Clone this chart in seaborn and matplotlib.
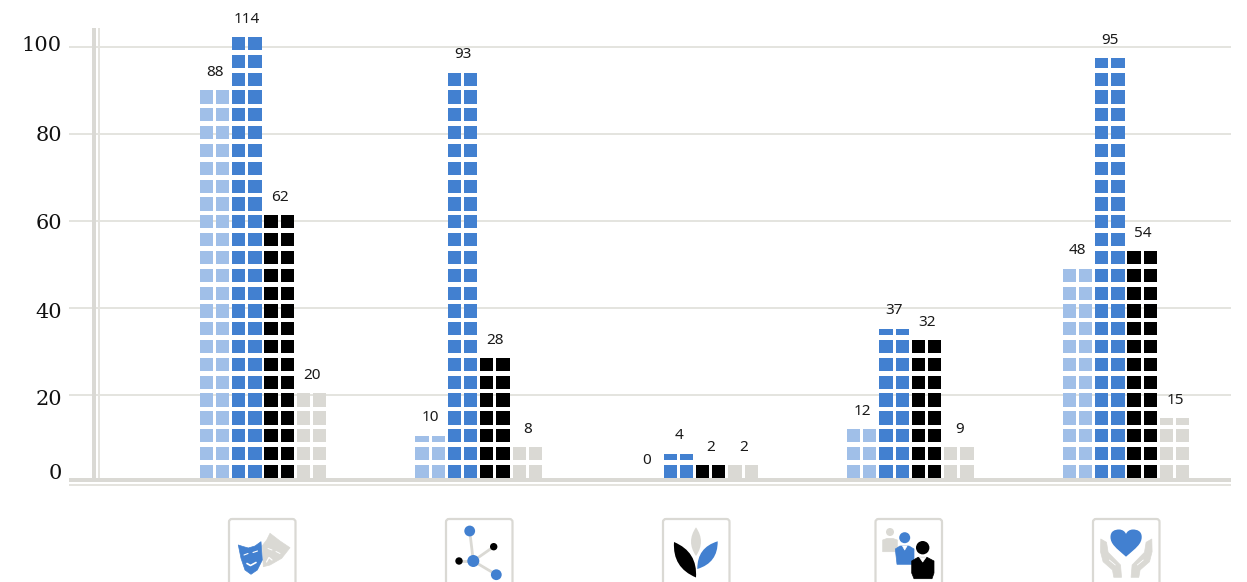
import matplotlib
matplotlib.use('Agg')
import matplotlib.pyplot as plt
from matplotlib.patches import Circle, FancyBboxPatch, PathPatch, Polygon
from matplotlib.path import Path
from matplotlib.transforms import ScaledTranslation
import numpy as np
import pandas as pd
import seaborn as sns

categories = ['Arts', 'Science', 'Environment', 'Community', 'Health']
series = ['Series A', 'Series B', 'Series C', 'Series D']

# numbers printed above the columns
labels_a = [88, 10, 0, 12, 48]
labels_b = [114, 93, 4, 37, 95]
labels_c = [62, 28, 2, 32, 54]
labels_d = [20, 8, 2, 9, 15]

# what the tiles actually show (one full tile = 4)
tiles_a = [88, 10, 0, 12, 48]
tiles_b = [100, 92, 6, 34, 95]
tiles_c = [60, 28, 4, 32, 52]
tiles_d = [20, 8, 4, 8, 14]

y_ticks = [0, 20, 40, 60, 80, 100]
colors = ['#A0BFE8', '#4280D0', '#000000', '#DAD9D4']

GREY = '#DAD9D4'
BLUE = '#4280D0'
PX_PER_UNIT = 4.346
TILE_VALUE = 4
TILE_H = 13.2 / PX_PER_UNIT
TILE_PITCH = 17.83 / PX_PER_UNIT
TILE_BASE = 3.9 / PX_PER_UNIT
GROUP_WIDTH = 0.6

sns.set_theme(style='white')
plt.rcParams['font.family'] = ['Noto Sans', 'DejaVu Sans']

fig = plt.figure(figsize=(12.47, 5.82), dpi=100)
ax = fig.add_axes([69 / 1247, 1 - 481.9 / 582, (1231 - 69) / 1247, (481.9 - 28) / 582])

all_tiles = [tiles_a, tiles_b, tiles_c, tiles_d]
all_labels = [labels_a, labels_b, labels_c, labels_d]

# every series is two tile columns wide, so dodge over eight hue levels
columns = [f'{s} {side}' for s in series for side in ('left', 'right')]
palette = {f'{s} {side}': c for s, c in zip(series, colors) for side in ('left', 'right')}

n_rows = int(np.ceil(max(max(t) for t in all_tiles) / TILE_VALUE))
for row in range(n_rows):
    records = []
    for s, tiles in zip(series, all_tiles):
        for cat, value in zip(categories, tiles):
            fill = np.clip(value / TILE_VALUE - row, 0, 1)
            for side in ('left', 'right'):
                records.append({'category': cat, 'column': f'{s} {side}', 'height': fill * TILE_H})
    sns.barplot(data=pd.DataFrame(records), x='category', y='height', hue='column',
                order=categories, hue_order=columns, palette=palette, saturation=1,
                width=GROUP_WIDTH, gap=0.18, errorbar=None, legend=False,
                bottom=TILE_BASE + row * TILE_PITCH, linewidth=0, zorder=3, ax=ax)

# value labels sit a fixed distance above the top tile
for i, (tiles, labels) in enumerate(zip(all_tiles, all_labels)):
    for g, (value, label) in enumerate(zip(tiles, labels)):
        rows = value / TILE_VALUE
        whole = int(np.floor(rows))
        if rows == whole:
            top = TILE_BASE + max(whole - 1, 0) * TILE_PITCH + (TILE_H if whole else 0)
        else:
            top = TILE_BASE + whole * TILE_PITCH + (rows - whole) * TILE_H
        x = g + (i - 1.5) * GROUP_WIDTH / 4
        ax.annotate(str(label), (x, top), xytext=(0.3, 12.8), textcoords='offset points',
                    ha='center', va='center', fontsize=11, color='#1a1a1a', zorder=5)

ax.set_xlim((69 - 263) / 215.75, (1231 - 263) / 215.75)
ax.set_ylim(0, (481.9 - 28) / PX_PER_UNIT)
ax.set_xlabel('')
ax.set_ylabel('')
ax.set_xticks([])
ax.set_yticks(y_ticks)
ax.set_axisbelow(True)
ax.yaxis.grid(True, color='#DDDCD6', linewidth=1.1)
ax.xaxis.grid(False)
sns.despine(ax=ax, left=True, bottom=True)
ax.tick_params(axis='y', length=0, pad=5)

# old-style numerals in the original do not centre on the gridlines
label_shift = [10, -3, -2, 0, 1, 4]
for tick, dy in zip(ax.get_yticklabels(), label_shift):
    tick.set_fontfamily('DejaVu Serif')
    tick.set_fontsize(15)
    tick.set_color('#111111')
    tick.set_transform(tick.get_transform() + ScaledTranslation(0, dy / 100, fig.dpi_scale_trans))

# overlay in pixel coordinates for the axis rules and the icons
px = fig.add_axes([0, 0, 1, 1], facecolor='none')
px.set_xlim(0, 1247)
px.set_ylim(582, 0)
px.axis('off')
px.fill_between([92.3, 96], 28, 478, color=GREY, lw=0)
px.fill_between([98.3, 100], 28, 478, color='#E4E3DE', lw=0)
px.fill_between([69, 1231], 477.8, 481.8, color=GREY, lw=0)
px.fill_between([69, 1231], 484, 485.7, color='#E4E3DE', lw=0)


def poly(points, color, **kws):
    px.add_patch(Polygon(points, closed=True, fc=color, ec=color, lw=0.5, joinstyle='round', zorder=3, **kws))


def dot(x, y, r, color):
    px.add_patch(Circle((x, y), r, fc=color, ec='none', zorder=4))


def stroke(xs, ys, color, lw):
    px.plot(xs, ys, color=color, lw=lw, zorder=3.5, solid_capstyle='round')


def leaf(p0, p1, bulge, color):
    p0, p1 = np.array(p0), np.array(p1)
    mid = (p0 + p1) / 2
    d = p1 - p0
    n = np.array([-d[1], d[0]]) / np.hypot(*d) * bulge * 2
    verts = [p0, mid + n, p1, mid - n, p0]
    codes = [Path.MOVETO, Path.CURVE3, Path.CURVE3, Path.CURVE3, Path.CURVE3]
    px.add_patch(PathPatch(Path(verts, codes), fc=color, ec='none', zorder=3))


for left in (229, 446, 663, 875.5, 1093):
    px.add_patch(FancyBboxPatch((left + 3, 522), 60.5, 80, boxstyle='round,pad=3,rounding_size=3',
                                fc='white', ec=GREY, lw=1.6, zorder=2))

# masks
poly([(266.7, 540), (270, 533.3), (280, 541), (290, 547.7), (281.7, 558.3), (270, 565), (263.3, 566.7),
      (262.3, 545.7)], GREY)
stroke([266.5, 269, 272], [562, 557.5, 560], 'white', 0.9)
stroke([268, 272], [548.5, 550], 'white', 0.7)
stroke([276, 280], [551.5, 553.5], 'white', 0.7)
poly([(238.3, 545), (243, 546.5), (248.3, 548), (255, 546), (261, 541.7), (262.3, 560), (257.3, 570), (251, 574.3),
      (245, 570), (241, 558.3)], BLUE)
stroke([247, 250.5, 256], [563.5, 565.5, 562.5], 'white', 1.2)
stroke([244, 248], [555, 553.5], 'white', 0.8)
stroke([253, 257.5], [552.5, 551], 'white', 0.8)

# molecule
mol_x = [473.3, 469.7, 473.3, 493.7, 473.3, 496.3, 473.3, 459]
mol_y = [561, 531, 561, 546.7, 561, 574.7, 561, 561]
for j in range(0, 8, 2):
    stroke(mol_x[j:j + 2], mol_y[j:j + 2], GREY, 2)
dot(473.3, 561, 6, BLUE)
dot(469.7, 531, 5.4, BLUE)
dot(496.3, 574.7, 5.4, BLUE)
dot(493.7, 546.7, 3.7, 'black')
dot(459, 561, 3.7, 'black')

# leaves
leaf((696, 527.3), (696, 556), 5, GREY)
leaf((674, 542), (696, 577.5), 7.5, 'black')
leaf((717.7, 541.3), (697.3, 569), 6.5, BLUE)

# people
dot(890, 532, 4, GREY)
poly([(882.7, 540), (887, 538.5), (893, 538.5), (897.3, 540), (897.3, 551.7), (882.7, 551.7)], GREY)
dot(904.7, 537.7, 5.5, BLUE)
poly([(895.3, 549), (900, 546), (909, 546), (914, 549), (914, 564.3), (897, 564.3)], BLUE)
poly([(902.5, 546), (907, 546), (904.7, 550)], 'white')
dot(922.7, 547.7, 6.7, 'black')
poly([(911.7, 561), (918, 557.3), (927, 557.3), (934, 561), (934, 573), (932, 578.7), (914, 578.7), (911.7, 573)], 'black')
poly([(919.5, 557.3), (926, 557.3), (922.7, 562)], 'white')

# heart and hands
heart = [(1126, 556.7), (1116, 548), (1110.5, 544), (1110.5, 537), (1110.5, 531), (1115, 529.5), (1119, 529.5),
         (1122.5, 529.5), (1125, 531.5), (1126, 534), (1127, 531.5), (1129.5, 529.5), (1133, 529.5),
         (1137, 529.5), (1141.7, 531), (1141.7, 537), (1141.7, 544), (1136, 548), (1126, 556.7)]
px.add_patch(PathPatch(Path(heart, [Path.MOVETO] + [Path.CURVE4] * 18), fc=BLUE, ec='none', zorder=3))
hand_dx = [25.5, 19.8, 18.2, 5.8, 4.8, 12.5, 13.8, 23.2, 25.8]
hand_y = [539, 542.3, 552.3, 565, 577.3, 577.3, 570, 561.7, 551.7]
for sign in (-1, 1):
    poly([(1126.3 + sign * dx, y) for dx, y in zip(hand_dx, hand_y)], GREY)
    stroke([1126.3 + sign * 17, 1126.3 + sign * 11], [560, 565], 'white', 0.6)

fig.savefig('out.png', dpi=100)
